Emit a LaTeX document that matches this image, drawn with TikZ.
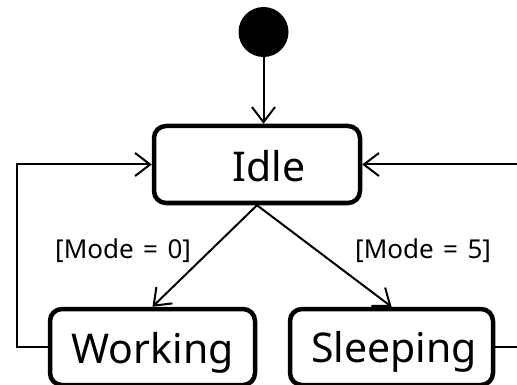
\documentclass[tikz,border=0pt]{standalone}
\usepackage{fontspec}
\setmainfont{Noto Sans}
\usetikzlibrary{arrows.meta}
\tikzset{
  statebox/.style={draw, line width=4.5pt, rounded corners=12pt, fill=white},
  big/.style={font=\fontsize{41}{49}\selectfont, inner sep=0pt},
  guard/.style={font=\fontsize{26}{31}\selectfont, inner sep=0pt, anchor=base west},
  conn/.style={line width=2pt, -{Straight Barb[length=15pt,width=23pt,line width=2pt]}},
}
\newcommand{\gsp}{\hspace{9.5pt}}
\begin{document}
\begin{tikzpicture}[x=1pt,y=-1pt]
  \useasboundingbox (0,0) rectangle (517,385);

  % initial pseudo-state
  \node[circle, fill=black, minimum size=50pt, inner sep=0pt] (init) at (263.5,32) {};

  % states
  \node[statebox, minimum width=206pt, minimum height=77pt] (idle) at (257,164.5) {};
  \node[big, anchor=base] (idletxt) at (269,182) {Idle};
  \node[statebox, minimum width=205pt, minimum height=76pt] (working) at (152.5,347) {};
  \node[big, anchor=base] (worktxt) at (152.5,363) {Working};
  \node[statebox, minimum width=203pt, minimum height=76pt] (sleeping) at (391.5,347) {};
  \node[big, anchor=base] (sleeptxt) at (394,362) {Sleeping};

  % loop corners
  \coordinate (lt) at (17,164.5);
  \coordinate (rb) at (520,347);
  \coordinate (rt) at (520,164.5);

  % transitions
  \draw[conn] (init) -- (init |- idle.north);
  \draw[conn] (idle.south) -- (working.north);
  \draw[conn] (idle.south) -- (sleeping.north);
  \draw[conn] (working.west) -| (lt) -- (idle.west);
  \draw[conn] (sleeping.east) -- (rb) -- (rt) -- (idle.east);

  % guards
  \node[guard] (g0) at (55,258) {[Mode\gsp=\gsp0]};
  \node[guard] (g5) at (355,258) {[Mode\gsp=\gsp5]};
\end{tikzpicture}
\end{document}
